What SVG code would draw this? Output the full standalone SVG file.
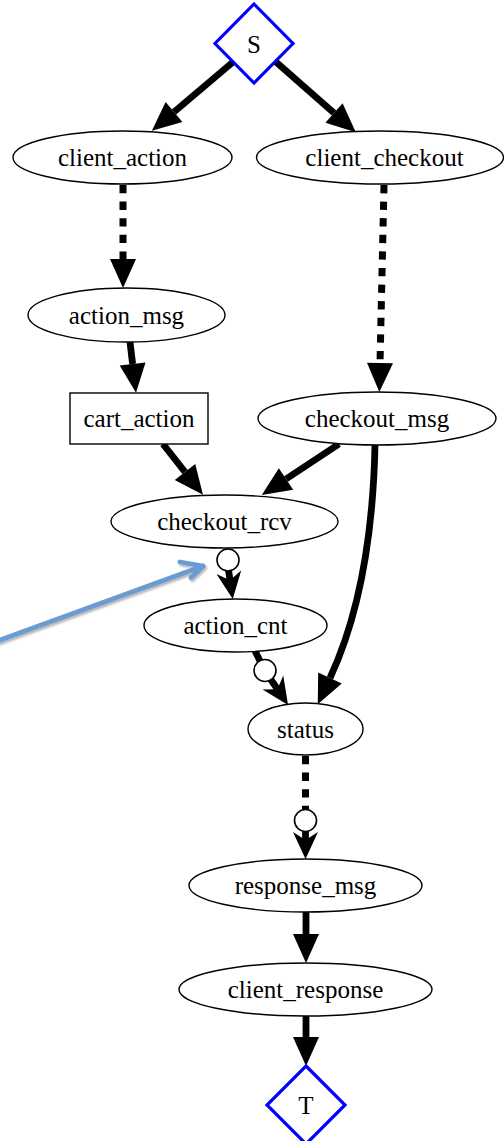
<svg xmlns="http://www.w3.org/2000/svg" width="504" height="1141" viewBox="0 0 504 1141">
  <style>
    .node ellipse, .node rect { fill: #ffffff; stroke: #000000; stroke-width: 1.4; }
    .node polygon.term { fill: #ffffff; stroke: #0000ff; stroke-width: 3.2; }
    .node text { font-family: "Liberation Serif", "Times New Roman", "DejaVu Serif", serif; font-size: 25px; fill: #000000; text-anchor: middle; }
    .edge { fill: none; stroke: #000000; stroke-width: 6.8; }
    .dotted { stroke-dasharray: 8.3 8.3; stroke-width: 7; }
    .odot { fill: #ffffff; stroke: #000000; stroke-width: 1.6; }
    .note { fill: none; stroke: #6a9bd1; stroke-width: 4.8; stroke-linecap: round; stroke-linejoin: round; }
  </style>
  <defs>
    <!-- filled triangular head; origin sits at the base of the head -->
    <marker id="head" markerUnits="userSpaceOnUse" viewBox="0 -13 29 26" markerWidth="29" markerHeight="26" refX="0" refY="0" orient="auto" overflow="visible">
      <path d="M0,-13 L29,0 L0,13 Z" fill="#000000"/>
    </marker>
    <!-- vee head; origin sits at the inner notch -->
    <marker id="vee" markerUnits="userSpaceOnUse" viewBox="0 -12.5 27 25" markerWidth="27" markerHeight="25" refX="8" refY="0" orient="auto" overflow="visible">
      <path d="M0,-12.5 L27,0 L0,12.5 L8,0 Z" fill="#000000"/>
    </marker>
    <filter id="shadow" x="-10%" y="-50%" width="120%" height="200%">
      <feDropShadow dx="1.5" dy="2" stdDeviation="1.2" flood-color="#000000" flood-opacity="0.3"/>
    </filter>
  </defs>

  <!-- connectors -->
  <g id="edges">
    <path class="edge" d="M233,62 L174,112" marker-end="url(#head)"/>
    <path class="edge" d="M276,62 L334,113" marker-end="url(#head)"/>
    <path class="edge dotted" d="M123,185 L123,259" marker-end="url(#head)"/>
    <path class="edge dotted" d="M384,185 L380,363" marker-end="url(#head)"/>
    <path class="edge" d="M130,342 L132.6,364" marker-end="url(#head)"/>
    <path class="edge" d="M163,444 L185,472" marker-end="url(#head)"/>
    <path class="edge" d="M339,444 L286,479" marker-end="url(#head)"/>
    <path class="edge" d="M375,445 C373,540 357,620 330,678" marker-end="url(#head)"/>

    <!-- checkout_rcv -> action_cnt (odot + vee) -->
    <path class="edge" d="M228.5,570 L230,580.2" marker-end="url(#vee)"/>
    <circle class="odot" cx="228" cy="560" r="11"/>

    <!-- action_cnt -> status (odot + vee) -->
    <path class="edge" d="M255,651 L260,661"/>
    <path class="edge" d="M270.5,679 L277.4,689.2" marker-end="url(#vee)"/>
    <circle class="odot" cx="265" cy="670.5" r="11"/>

    <!-- status -> response_msg (dotted, odot + vee) -->
    <path class="edge dotted" d="M305.5,756 L305.5,809"/>
    <path class="edge" d="M305.5,830 L305.5,840" marker-end="url(#vee)"/>
    <circle class="odot" cx="305.5" cy="820.5" r="11"/>

    <path class="edge" d="M306,912 L306,934" marker-end="url(#head)"/>
    <path class="edge" d="M306,1016 L306,1037" marker-end="url(#head)"/>
  </g>

  <!-- nodes -->
  <g id="S" class="node">
    <polygon class="term" points="254,4 293,43.5 254,83 215,43.5"/>
    <text x="254" y="52.5">S</text>
  </g>
  <g id="client_action" class="node">
    <ellipse cx="122.5" cy="157.5" rx="109.5" ry="26.5"/>
    <text x="122.5" y="166">client_action</text>
  </g>
  <g id="client_checkout" class="node">
    <ellipse cx="380" cy="157.5" rx="123.5" ry="26.5"/>
    <text x="384.5" y="166">client_checkout</text>
  </g>
  <g id="action_msg" class="node">
    <ellipse cx="126.5" cy="315" rx="98.5" ry="27"/>
    <text x="126.5" y="323.5">action_msg</text>
  </g>
  <g id="cart_action" class="node">
    <rect x="70" y="393" width="138" height="51"/>
    <text x="139" y="427">cart_action</text>
  </g>
  <g id="checkout_msg" class="node">
    <ellipse cx="377" cy="418.5" rx="119" ry="26.5"/>
    <text x="377" y="427">checkout_msg</text>
  </g>
  <g id="checkout_rcv" class="node">
    <ellipse cx="224.5" cy="521.5" rx="113.5" ry="26.5"/>
    <text x="224.5" y="530">checkout_rcv</text>
  </g>
  <g id="action_cnt" class="node">
    <ellipse cx="235.5" cy="625.5" rx="91.5" ry="26.5"/>
    <text x="235.5" y="634">action_cnt</text>
  </g>
  <g id="status" class="node">
    <ellipse cx="305.5" cy="729" rx="57.5" ry="26"/>
    <text x="305.5" y="737.5">status</text>
  </g>
  <g id="response_msg" class="node">
    <ellipse cx="305.5" cy="885.5" rx="116.5" ry="26.5"/>
    <text x="305.5" y="894">response_msg</text>
  </g>
  <g id="client_response" class="node">
    <ellipse cx="305.5" cy="989.5" rx="126.5" ry="26.5"/>
    <text x="305.5" y="998">client_response</text>
  </g>
  <g id="T" class="node">
    <polygon class="term" points="306,1066 345,1105 306,1144 267,1105"/>
    <text x="306" y="1114">T</text>
  </g>

  <!-- callout arrow -->
  <g id="callout" filter="url(#shadow)">
    <path class="note" d="M-4,641.5 L203,566"/>
    <path class="note" d="M180,562 L203,566 L191,577.5"/>
  </g>
</svg>
